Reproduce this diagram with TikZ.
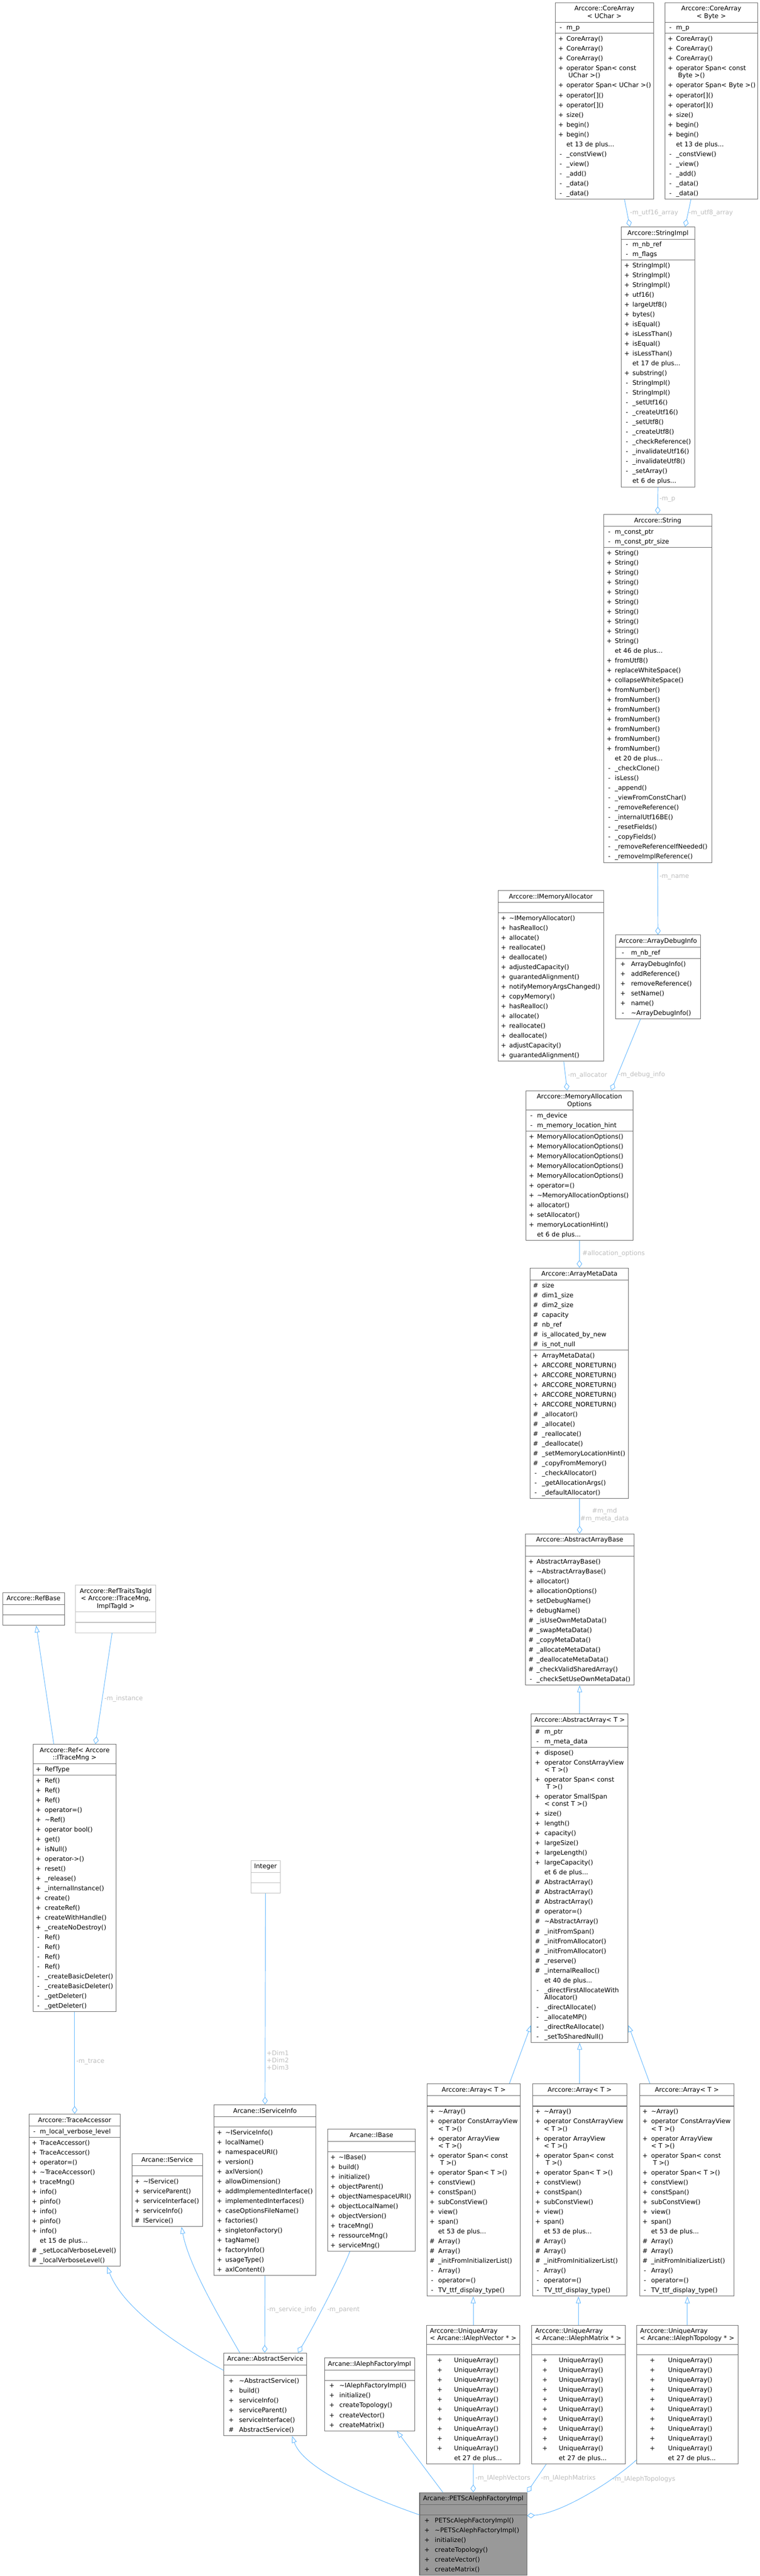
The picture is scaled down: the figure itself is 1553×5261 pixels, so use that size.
\documentclass[tikz,border=0pt]{standalone}
\usepackage{fontspec}
\setmainfont{DejaVu Sans}
\usetikzlibrary{shapes.multipart,arrows.meta,calc}

\definecolor{edgeblue}{HTML}{63B8FF}
\definecolor{boxgray}{HTML}{666666}
\definecolor{undocgray}{HTML}{BFBFBF}
\definecolor{focusgray}{HTML}{999999}
\definecolor{lblgray}{HTML}{BEBEBE}

\newdimen\pxu \pxu=0.75pt
\newdimen\symc \newdimen\namec
\newcommand\clsfont{\fontsize{9.7pt}{15pt}\selectfont}
\newcommand\lblfont{\fontsize{9.7pt}{11.25pt}\selectfont}
\newcommand\tstrut{\rule[-5pt]{0pt}{16.25pt}}
\newcommand\mstrut{\rule[-4.5pt]{0pt}{15pt}}
\newcommand\mstrutd{\rule[-4.5pt]{0pt}{4.5pt}}
\newcommand\esec{\rule[-4.5pt]{0pt}{13.5pt}}
% class name, centred or flush left
\newcommand\clstitle[1]{\centering\baselineskip=11.25pt\relax\lineskiplimit=-50pt\relax\tstrut#1\tstrut\par}
\newcommand\clstitlel[2]{\raggedright\baselineskip=11.25pt\relax\lineskiplimit=-50pt\relax\hspace*{7\pxu}\tstrut#1\\\hspace*{7\pxu}#2\tstrut\par}
% one member row, and a member wrapped on two lines
\newcommand\mbr[2]{\mstrut\rlap{\hspace*{\symc}\makebox[0pt]{#1}}\hspace*{\namec}#2\par}
\newcommand\mbrr[3]{\lineskiplimit=-50pt\relax\mstrut\rlap{\hspace*{\symc}\makebox[0pt]{#1}}\hspace*{\namec}#2\\[-3.75pt]\hspace*{\namec}#3\mstrutd\par}

\begin{document}
\begin{tikzpicture}[x=0.75pt, y=-0.75pt,
    cols/.code 2 args={\symc=#1\pxu\relax\namec=#2\pxu\relax},
    cls/.style={rectangle split, rectangle split parts=3, draw=boxgray, line width=0.8pt,
      fill=white, inner xsep=0pt, inner ysep=0.75pt, text width=#1\pxu,
      anchor=north west, font=\clsfont, cols={11.5}{23}},
    undoc/.style={draw=undocgray},
    focus/.style={fill=focusgray},
    inh/.style={draw=edgeblue, line width=0.75pt, -{Triangle[open, length=10.5pt, width=7.5pt]}},
    agg/.style={draw=edgeblue, line width=0.75pt, -{Diamond[open, length=11.8pt, width=8.3pt]}},
    elbl/.style={text=lblgray, font=\clsfont, inner sep=0pt, anchor=west}]

  \fill[white] (0,0) rectangle (1553,5261);
  \useasboundingbox (0,0) rectangle (1553,5261);

  % string storage
  \node[cls=201] (coreuchar) at (1134,5) {\clstitle{Arccore::CoreArray\\< UChar >}
    \nodepart{two}\mbr{-}{m\_p}
    \nodepart{three}\mbr{+}{CoreArray()}
    \mbr{+}{CoreArray()}
    \mbr{+}{CoreArray()}
    \mbrr{+}{operator Span< const}{\hspace*{4\pxu}UChar >()}
    \mbr{+}{operator Span< UChar >()}
    \mbr{+}{operator[]()}
    \mbr{+}{operator[]()}
    \mbr{+}{size()}
    \mbr{+}{begin()}
    \mbr{+}{begin()}
    \mbr{}{et 13 de plus...}
    \mbr{-}{\_constView()}
    \mbr{-}{\_view()}
    \mbr{-}{\_add()}
    \mbr{-}{\_data()}
    \mbr{-}{\_data()}};
  \node[cls=190] (corebyte) at (1358,5) {\clstitle{Arccore::CoreArray\\< Byte >}
    \nodepart{two}\mbr{-}{m\_p}
    \nodepart{three}\mbr{+}{CoreArray()}
    \mbr{+}{CoreArray()}
    \mbr{+}{CoreArray()}
    \mbrr{+}{operator Span< const}{\hspace*{4\pxu}Byte >()}
    \mbr{+}{operator Span< Byte >()}
    \mbr{+}{operator[]()}
    \mbr{+}{operator[]()}
    \mbr{+}{size()}
    \mbr{+}{begin()}
    \mbr{+}{begin()}
    \mbr{}{et 13 de plus...}
    \mbr{-}{\_constView()}
    \mbr{-}{\_view()}
    \mbr{-}{\_add()}
    \mbr{-}{\_data()}
    \mbr{-}{\_data()}};
  \node[cls=150] (strimpl) at (1269,463) {\clstitle{Arccore::StringImpl}
    \nodepart{two}\mbr{-}{m\_nb\_ref}
    \mbr{-}{m\_flags}
    \nodepart{three}\mbr{+}{StringImpl()}
    \mbr{+}{StringImpl()}
    \mbr{+}{StringImpl()}
    \mbr{+}{utf16()}
    \mbr{+}{largeUtf8()}
    \mbr{+}{bytes()}
    \mbr{+}{isEqual()}
    \mbr{+}{isLessThan()}
    \mbr{+}{isEqual()}
    \mbr{+}{isLessThan()}
    \mbr{}{et 17 de plus...}
    \mbr{+}{substring()}
    \mbr{-}{StringImpl()}
    \mbr{-}{StringImpl()}
    \mbr{-}{\_setUtf16()}
    \mbr{-}{\_createUtf16()}
    \mbr{-}{\_setUtf8()}
    \mbr{-}{\_createUtf8()}
    \mbr{-}{\_checkReference()}
    \mbr{-}{\_invalidateUtf16()}
    \mbr{-}{\_invalidateUtf8()}
    \mbr{-}{\_setArray()}
    \mbr{}{et 6 de plus...}};
  \node[cls=221] (string) at (1233,1050) {\clstitle{Arccore::String}
    \nodepart{two}\mbr{-}{m\_const\_ptr}
    \mbr{-}{m\_const\_ptr\_size}
    \nodepart{three}\mbr{+}{String()}
    \mbr{+}{String()}
    \mbr{+}{String()}
    \mbr{+}{String()}
    \mbr{+}{String()}
    \mbr{+}{String()}
    \mbr{+}{String()}
    \mbr{+}{String()}
    \mbr{+}{String()}
    \mbr{+}{String()}
    \mbr{}{et 46 de plus...}
    \mbr{+}{fromUtf8()}
    \mbr{+}{replaceWhiteSpace()}
    \mbr{+}{collapseWhiteSpace()}
    \mbr{+}{fromNumber()}
    \mbr{+}{fromNumber()}
    \mbr{+}{fromNumber()}
    \mbr{+}{fromNumber()}
    \mbr{+}{fromNumber()}
    \mbr{+}{fromNumber()}
    \mbr{+}{fromNumber()}
    \mbr{}{et 20 de plus...}
    \mbr{-}{\_checkClone()}
    \mbr{-}{isLess()}
    \mbr{-}{\_append()}
    \mbr{-}{\_viewFromConstChar()}
    \mbr{-}{\_removeReference()}
    \mbr{-}{\_internalUtf16BE()}
    \mbr{-}{\_resetFields()}
    \mbr{-}{\_copyFields()}
    \mbr{-}{\_removeReferenceIfNeeded()}
    \mbr{-}{\_removeImplReference()}};

  % allocation
  \node[cls=216] (imemalloc) at (1017,1818) {\clstitle{Arccore::IMemoryAllocator}
    \nodepart{two}\esec
    \nodepart{three}\mbr{+}{\textasciitilde IMemoryAllocator()}
    \mbr{+}{hasRealloc()}
    \mbr{+}{allocate()}
    \mbr{+}{reallocate()}
    \mbr{+}{deallocate()}
    \mbr{+}{adjustedCapacity()}
    \mbr{+}{guarantedAlignment()}
    \mbr{+}{notifyMemoryArgsChanged()}
    \mbr{+}{copyMemory()}
    \mbr{+}{hasRealloc()}
    \mbr{+}{allocate()}
    \mbr{+}{reallocate()}
    \mbr{+}{deallocate()}
    \mbr{+}{adjustCapacity()}
    \mbr{+}{guarantedAlignment()}};
  \node[cls=174, cols={15.5}{32}] (dbginfo) at (1257,1909) {\clstitle{Arccore::ArrayDebugInfo}
    \nodepart{two}\mbr{-}{m\_nb\_ref}
    \nodepart{three}\mbr{+}{ArrayDebugInfo()}
    \mbr{+}{addReference()}
    \mbr{+}{removeReference()}
    \mbr{+}{setName()}
    \mbr{+}{name()}
    \mbr{-}{\textasciitilde ArrayDebugInfo()}};
  \node[cls=219] (memopts) at (1074,2227) {\clstitle{Arccore::MemoryAllocation\\Options}
    \nodepart{two}\mbr{-}{m\_device}
    \mbr{-}{m\_memory\_location\_hint}
    \nodepart{three}\mbr{+}{MemoryAllocationOptions()}
    \mbr{+}{MemoryAllocationOptions()}
    \mbr{+}{MemoryAllocationOptions()}
    \mbr{+}{MemoryAllocationOptions()}
    \mbr{+}{MemoryAllocationOptions()}
    \mbr{+}{operator=()}
    \mbr{+}{\textasciitilde MemoryAllocationOptions()}
    \mbr{+}{allocator()}
    \mbr{+}{setAllocator()}
    \mbr{+}{memoryLocationHint()}
    \mbr{}{et 6 de plus...}};
  \node[cls=201, cols={11}{24}] (metadata) at (1083,2589) {\clstitle{Arccore::ArrayMetaData}
    \nodepart{two}\mbr{\#}{size}
    \mbr{\#}{dim1\_size}
    \mbr{\#}{dim2\_size}
    \mbr{\#}{capacity}
    \mbr{\#}{nb\_ref}
    \mbr{\#}{is\_allocated\_by\_new}
    \mbr{\#}{is\_not\_null}
    \nodepart{three}\mbr{+}{ArrayMetaData()}
    \mbr{+}{ARCCORE\_NORETURN()}
    \mbr{+}{ARCCORE\_NORETURN()}
    \mbr{+}{ARCCORE\_NORETURN()}
    \mbr{+}{ARCCORE\_NORETURN()}
    \mbr{+}{ARCCORE\_NORETURN()}
    \mbr{\#}{\_allocator()}
    \mbr{\#}{\_allocate()}
    \mbr{\#}{\_reallocate()}
    \mbr{\#}{\_deallocate()}
    \mbr{\#}{\_setMemoryLocationHint()}
    \mbr{\#}{\_copyFromMemory()}
    \mbr{-}{\_checkAllocator()}
    \mbr{-}{\_getAllocationArgs()}
    \mbr{-}{\_defaultAllocator()}};
  \node[cls=222] (arraybase) at (1073,3132) {\clstitle{Arccore::AbstractArrayBase}
    \nodepart{two}\esec
    \nodepart{three}\mbr{+}{AbstractArrayBase()}
    \mbr{+}{\textasciitilde AbstractArrayBase()}
    \mbr{+}{allocator()}
    \mbr{+}{allocationOptions()}
    \mbr{+}{setDebugName()}
    \mbr{+}{debugName()}
    \mbr{\#}{\_isUseOwnMetaData()}
    \mbr{\#}{\_swapMetaData()}
    \mbr{\#}{\_copyMetaData()}
    \mbr{\#}{\_allocateMetaData()}
    \mbr{\#}{\_deallocateMetaData()}
    \mbr{\#}{\_checkValidSharedArray()}
    \mbr{-}{\_checkSetUseOwnMetaData()}};
  \node[cls=198, cols={13}{27}] (absarray) at (1085,3500) {\clstitle{Arccore::AbstractArray< T >}
    \nodepart{two}\mbr{\#}{m\_ptr}
    \mbr{-}{m\_meta\_data}
    \nodepart{three}\mbr{+}{dispose()}
    \mbrr{+}{operator ConstArrayView}{< T >()}
    \mbrr{+}{operator Span< const}{\hspace*{4\pxu}T >()}
    \mbrr{+}{operator SmallSpan}{< const T >()}
    \mbr{+}{size()}
    \mbr{+}{length()}
    \mbr{+}{capacity()}
    \mbr{+}{largeSize()}
    \mbr{+}{largeLength()}
    \mbr{+}{largeCapacity()}
    \mbr{}{et 6 de plus...}
    \mbr{\#}{AbstractArray()}
    \mbr{\#}{AbstractArray()}
    \mbr{\#}{AbstractArray()}
    \mbr{\#}{operator=()}
    \mbr{\#}{\textasciitilde AbstractArray()}
    \mbr{\#}{\_initFromSpan()}
    \mbr{\#}{\_initFromAllocator()}
    \mbr{\#}{\_initFromAllocator()}
    \mbr{\#}{\_reserve()}
    \mbr{\#}{\_internalRealloc()}
    \mbr{}{et 40 de plus...}
    \mbrr{-}{\_directFirstAllocateWith}{Allocator()}
    \mbr{-}{\_directAllocate()}
    \mbr{-}{\_allocateMP()}
    \mbr{-}{\_directReAllocate()}
    \mbr{-}{\_setToSharedNull()}};

  % references and traces
  \node[cls=126] (refbase) at (5,3252) {\clstitle{Arccore::RefBase}
    \nodepart{two}\esec
    \nodepart{three}\esec};
  \node[cls=164, undoc] (reftraits) at (154,3237) {\clstitle{Arccore::RefTraitsTagId\\< Arccore::ITraceMng,\\ImplTagId >}
    \nodepart{two}\esec
    \nodepart{three}\esec};
  \node[cls=170, cols={11}{24}] (ref) at (67,3562) {\clstitle{Arccore::Ref< Arccore\\::ITraceMng >}
    \nodepart{two}\mbr{+}{RefType}
    \nodepart{three}\mbr{+}{Ref()}
    \mbr{+}{Ref()}
    \mbr{+}{Ref()}
    \mbr{+}{operator=()}
    \mbr{+}{\textasciitilde Ref()}
    \mbr{+}{operator bool()}
    \mbr{+}{get()}
    \mbr{+}{isNull()}
    \mbr{+}{operator->()}
    \mbr{+}{reset()}
    \mbr{+}{\_release()}
    \mbr{+}{\_internalInstance()}
    \mbr{+}{create()}
    \mbr{+}{createRef()}
    \mbr{+}{createWithHandle()}
    \mbr{+}{\_createNoDestroy()}
    \mbr{-}{Ref()}
    \mbr{-}{Ref()}
    \mbr{-}{Ref()}
    \mbr{-}{Ref()}
    \mbr{-}{\_createBasicDeleter()}
    \mbr{-}{\_createBasicDeleter()}
    \mbr{-}{\_getDeleter()}
    \mbr{-}{\_getDeleter()}};
  \node[cls=60, undoc] (integer) at (512,3799) {\clstitle{Integer}
    \nodepart{two}\esec
    \nodepart{three}\esec};
  \node[cls=186, cols={10.7}{22}] (traceacc) at (59,4317) {\clstitle{Arccore::TraceAccessor}
    \nodepart{two}\mbr{-}{m\_local\_verbose\_level}
    \nodepart{three}\mbr{+}{TraceAccessor()}
    \mbr{+}{TraceAccessor()}
    \mbr{+}{operator=()}
    \mbr{+}{\textasciitilde TraceAccessor()}
    \mbr{+}{traceMng()}
    \mbr{+}{info()}
    \mbr{+}{pinfo()}
    \mbr{+}{info()}
    \mbr{+}{pinfo()}
    \mbr{+}{info()}
    \mbr{}{et 15 de plus...}
    \mbr{\#}{\_setLocalVerboseLevel()}
    \mbr{\#}{\_localVerboseLevel()}};

  % services
  \node[cls=144, cols={11}{23}] (iservice) at (269,4398) {\clstitle{Arcane::IService}
    \nodepart{two}\esec
    \nodepart{three}\mbr{+}{\textasciitilde IService()}
    \mbr{+}{serviceParent()}
    \mbr{+}{serviceInterface()}
    \mbr{+}{serviceInfo()}
    \mbr{\#}{IService()}};
  \node[cls=208, cols={11}{23}] (svcinfo) at (437,4298) {\clstitle{Arcane::IServiceInfo}
    \nodepart{two}\esec
    \nodepart{three}\mbr{+}{\textasciitilde IServiceInfo()}
    \mbr{+}{localName()}
    \mbr{+}{namespaceURI()}
    \mbr{+}{version()}
    \mbr{+}{axlVersion()}
    \mbr{+}{allowDimension()}
    \mbr{+}{addImplementedInterface()}
    \mbr{+}{implementedInterfaces()}
    \mbr{+}{caseOptionsFileName()}
    \mbr{+}{factories()}
    \mbr{+}{singletonFactory()}
    \mbr{+}{tagName()}
    \mbr{+}{factoryInfo()}
    \mbr{+}{usageType()}
    \mbr{+}{axlContent()}};
  \node[cls=179, cols={11}{22.5}] (ibase) at (669,4348) {\clstitle{Arcane::IBase}
    \nodepart{two}\esec
    \nodepart{three}\mbr{+}{\textasciitilde IBase()}
    \mbr{+}{build()}
    \mbr{+}{initialize()}
    \mbr{+}{objectParent()}
    \mbr{+}{objectNamespaceURI()}
    \mbr{+}{objectLocalName()}
    \mbr{+}{objectVersion()}
    \mbr{+}{traceMng()}
    \mbr{+}{ressourceMng()}
    \mbr{+}{serviceMng()}};
  \node[cls=169, cols={15}{31}] (absservice) at (457,4805) {\clstitle{Arcane::AbstractService}
    \nodepart{two}\esec
    \nodepart{three}\mbr{+}{\textasciitilde AbstractService()}
    \mbr{+}{build()}
    \mbr{+}{serviceInfo()}
    \mbr{+}{serviceParent()}
    \mbr{+}{serviceInterface()}
    \mbr{\#}{AbstractService()}};
  \node[cls=184, cols={15}{30.5}] (ifactory) at (662.5,4815) {\clstitle{Arcane::IAlephFactoryImpl}
    \nodepart{two}\esec
    \nodepart{three}\mbr{+}{\textasciitilde IAlephFactoryImpl()}
    \mbr{+}{initialize()}
    \mbr{+}{createTopology()}
    \mbr{+}{createVector()}
    \mbr{+}{createMatrix()}};

  % arrays
  \node[cls=191, cols={10.5}{23}] (arrayL) at (872,4255) {\clstitle{Arccore::Array< T >}
    \nodepart{two}\esec
    \nodepart{three}\mbr{+}{\textasciitilde Array()}
    \mbrr{+}{operator ConstArrayView}{< T >()}
    \mbrr{+}{operator ArrayView}{< T >()}
    \mbrr{+}{operator Span< const}{\hspace*{4\pxu}T >()}
    \mbr{+}{operator Span< T >()}
    \mbr{+}{constView()}
    \mbr{+}{constSpan()}
    \mbr{+}{subConstView()}
    \mbr{+}{view()}
    \mbr{+}{span()}
    \mbr{}{et 53 de plus...}
    \mbr{\#}{Array()}
    \mbr{\#}{Array()}
    \mbr{\#}{\_initFromInitializerList()}
    \mbr{-}{Array()}
    \mbr{-}{operator=()}
    \mbr{-}{TV\_ttf\_display\_type()}};
  \node[cls=192, cols={10.5}{23}] (arrayM) at (1088,4255) {\clstitle{Arccore::Array< T >}
    \nodepart{two}\esec
    \nodepart{three}\mbr{+}{\textasciitilde Array()}
    \mbrr{+}{operator ConstArrayView}{< T >()}
    \mbrr{+}{operator ArrayView}{< T >()}
    \mbrr{+}{operator Span< const}{\hspace*{4\pxu}T >()}
    \mbr{+}{operator Span< T >()}
    \mbr{+}{constView()}
    \mbr{+}{constSpan()}
    \mbr{+}{subConstView()}
    \mbr{+}{view()}
    \mbr{+}{span()}
    \mbr{}{et 53 de plus...}
    \mbr{\#}{Array()}
    \mbr{\#}{Array()}
    \mbr{\#}{\_initFromInitializerList()}
    \mbr{-}{Array()}
    \mbr{-}{operator=()}
    \mbr{-}{TV\_ttf\_display\_type()}};
  \node[cls=192, cols={10.5}{23}] (arrayR) at (1307,4255) {\clstitle{Arccore::Array< T >}
    \nodepart{two}\esec
    \nodepart{three}\mbr{+}{\textasciitilde Array()}
    \mbrr{+}{operator ConstArrayView}{< T >()}
    \mbrr{+}{operator ArrayView}{< T >()}
    \mbrr{+}{operator Span< const}{\hspace*{4\pxu}T >()}
    \mbr{+}{operator Span< T >()}
    \mbr{+}{constView()}
    \mbr{+}{constSpan()}
    \mbr{+}{subConstView()}
    \mbr{+}{view()}
    \mbr{+}{span()}
    \mbr{}{et 53 de plus...}
    \mbr{\#}{Array()}
    \mbr{\#}{Array()}
    \mbr{\#}{\_initFromInitializerList()}
    \mbr{-}{Array()}
    \mbr{-}{operator=()}
    \mbr{-}{TV\_ttf\_display\_type()}};
  \node[cls=191, cols={27}{56.5}] (uvec) at (871,4748) {\clstitlel{Arccore::UniqueArray}{< Arcane::IAlephVector * >}
    \nodepart{two}\esec
    \nodepart{three}\mbr{+}{UniqueArray()}
    \mbr{+}{UniqueArray()}
    \mbr{+}{UniqueArray()}
    \mbr{+}{UniqueArray()}
    \mbr{+}{UniqueArray()}
    \mbr{+}{UniqueArray()}
    \mbr{+}{UniqueArray()}
    \mbr{+}{UniqueArray()}
    \mbr{+}{UniqueArray()}
    \mbr{+}{UniqueArray()}
    \mbr{}{et 27 de plus...}};
  \node[cls=191, cols={27}{55.5}] (umat) at (1086,4748) {\clstitlel{Arccore::UniqueArray}{< Arcane::IAlephMatrix * >}
    \nodepart{two}\esec
    \nodepart{three}\mbr{+}{UniqueArray()}
    \mbr{+}{UniqueArray()}
    \mbr{+}{UniqueArray()}
    \mbr{+}{UniqueArray()}
    \mbr{+}{UniqueArray()}
    \mbr{+}{UniqueArray()}
    \mbr{+}{UniqueArray()}
    \mbr{+}{UniqueArray()}
    \mbr{+}{UniqueArray()}
    \mbr{+}{UniqueArray()}
    \mbr{}{et 27 de plus...}};
  \node[cls=207, cols={32}{64}] (utopo) at (1300.5,4748) {\clstitlel{Arccore::UniqueArray}{< Arcane::IAlephTopology * >}
    \nodepart{two}\esec
    \nodepart{three}\mbr{+}{UniqueArray()}
    \mbr{+}{UniqueArray()}
    \mbr{+}{UniqueArray()}
    \mbr{+}{UniqueArray()}
    \mbr{+}{UniqueArray()}
    \mbr{+}{UniqueArray()}
    \mbr{+}{UniqueArray()}
    \mbr{+}{UniqueArray()}
    \mbr{+}{UniqueArray()}
    \mbr{+}{UniqueArray()}
    \mbr{}{et 27 de plus...}};

  % the class itself
  \node[cls=219, focus, cols={15}{31}] (petsc) at (857,5090) {\clstitle{Arcane::PETScAlephFactoryImpl}
    \nodepart{two}\esec
    \nodepart{three}\mbr{+}{PETScAlephFactoryImpl()}
    \mbr{+}{\textasciitilde PETScAlephFactoryImpl()}
    \mbr{+}{initialize()}
    \mbr{+}{createTopology()}
    \mbr{+}{createVector()}
    \mbr{+}{createMatrix()}};

  % connectors
  \draw[agg] ($(coreuchar.south west)+(142,0)$) -- ($(strimpl.north west)+(18,0)$)
    node[elbl, pos=.49, xshift=4.2pt] (lutf16) {-m\_utf16\_array};
  \draw[agg] ($(corebyte.south west)+(54,0)$) -- ($(strimpl.north west)+(131,0)$)
    node[elbl, pos=.49, xshift=.7pt] (lutf8) {-m\_utf8\_array};
  \draw[agg] (strimpl.south) -- (string.north)
    node[elbl, pos=.46, xshift=2.25pt] (lp) {-m\_p};
  \draw[agg] (string.south) -- (dbginfo.north)
    node[elbl, pos=.2, xshift=2.25pt] (lname) {-m\_name};
  \draw[agg] ($(imemalloc.south west)+(135,0)$) -- ($(memopts.north west)+(85,0)$)
    node[elbl, pos=.48, xshift=3.5pt] (lalloc) {-m\_allocator};
  \draw[agg] ($(dbginfo.south west)+(52,0)$) -- ($(memopts.north west)+(175,0)$)
    node[elbl, pos=.78, xshift=.75pt] (ldebug) {-m\_debug\_info};
  \draw[agg] (memopts.south) -- (metadata.north)
    node[elbl, pos=.47, xshift=4pt] (lopts) {\#allocation\_options};
  \draw[agg] (metadata.south) -- (arraybase.north)
    node[elbl, pos=.47, xshift=.75pt, align=center, font=\lblfont] (lmd) {\#m\_md\\\#m\_meta\_data};
  \draw[inh] (absarray.north) -- (arraybase.south);
  \draw[inh] ($(ref.north west)+(43,0)$) -- ($(refbase.south west)+(69,0)$);
  \draw[agg] ($(reftraits.south west)+(75,0)$) -- ($(ref.north west)+(128,0)$)
    node[elbl, pos=.59, xshift=3pt] (linst) {-m\_instance};
  \draw[agg] (ref.south) -- (traceacc.north)
    node[elbl, pos=.49, xshift=2.25pt] (ltrace) {-m\_trace};
  \draw[agg] (integer.south) -- (svcinfo.north)
    node[elbl, pos=.79, xshift=2pt, align=left, font=\lblfont] (ldim) {+Dim1\\+Dim2\\+Dim3};
  \draw[inh] ($(arrayL.north west)+(169,0)$) -- ($(absarray.south west)+(0,-36)$);
  \draw[inh] (arrayM.north) -- (absarray.south);
  \draw[inh] ($(arrayR.north west)+(21,0)$) -- ($(absarray.south east)+(0,-36)$);
  \draw[inh] (uvec.north) -- (uvec.north |- arrayL.south);
  \draw[inh] (umat.north) -- (umat.north |- arrayM.south);
  \draw[inh] (utopo.north) -- (utopo.north |- arrayR.south);
  \draw[inh] ($(absservice.north west)+(0,36)$) .. controls +(-110,-60) and +(30,80) .. ($(traceacc.south west)+(160,0)$);
  \draw[inh] ($(absservice.north west)+(33,0)$) .. controls +(-40,-70) and +(15,80) .. ($(iservice.south west)+(102,0)$);
  \draw[agg] (svcinfo.south) -- ($(absservice.north west)+(84,0)$)
    node[elbl, pos=.44, xshift=3pt] (lsinfo) {-m\_service\_info};
  \draw[agg] ($(ibase.south west)+(46,0)$) .. controls +(-15,40) and +(30,-50) .. ($(absservice.north west)+(152,0)$)
    node[elbl, pos=.58, xshift=8pt] (lparent) {-m\_parent};
  \draw[inh] ($(petsc.north west)+(0,46)$) .. controls +(-130,-45) and +(20,60) .. ($(absservice.south west)+(140,0)$);
  \draw[inh] ($(petsc.north west)+(48,0)$) -- ($(ifactory.south west)+(148.5,0)$);
  \draw[agg] (uvec.south) -- ($(petsc.north west)+(110,0)$)
    node[elbl, pos=.49, xshift=3pt] (lvec) {-m\_IAlephVectors};
  \draw[agg] ($(umat.south west)+(30,0)$) -- (petsc.north east)
    node[elbl, pos=.49, xshift=6pt] (lmat) {-m\_IAlephMatrixs};
  \draw[agg] ($(utopo.south west)+(0,-9)$) .. controls +(-50,45) and +(70,-5) .. ($(petsc.north east)+(0,48)$)
    node[elbl, pos=.27, xshift=1pt] (ltopo) {-m\_IAlephTopologys};
\end{tikzpicture}
\end{document}
